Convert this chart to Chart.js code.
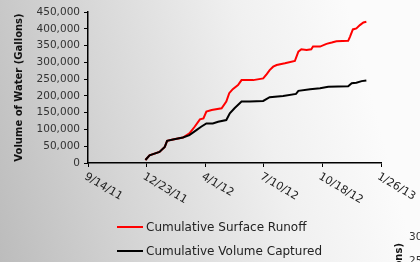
<!DOCTYPE html>
<html>
<head>
<meta charset="utf-8">
<script src="https://cdn.jsdelivr.net/npm/chart.js@4/dist/chart.umd.min.js"></script>
<style>
    html, body { margin: 0; padding: 0; }
    #wrap {
        width: 420px;
        height: 262px;
        position: relative;
        background: linear-gradient(75deg, #bcbcbc 0%, #d6d6d6 30%, #f0f0f0 62%, #fbfbfb 85%);
    }
</style>
</head>
<body>
<div id="wrap"><canvas id="chart"></canvas></div>
<script>
// Eje X: días desde el 14/9/11
const tickDays = [0, 100, 200, 300, 400, 500];
const tickLabels = ['9/14/11', '12/23/11', '4/1/12', '7/10/12', '10/18/12', '1/26/13'];

// Escurrimiento superficial acumulado (galones)
const runoffDays = [98, 105, 122, 131, 135, 145, 162, 173, 182, 191, 197, 202, 211, 228, 236, 241, 247, 256, 262, 282, 299, 305, 310, 316, 322, 336, 353, 359, 364, 373, 381, 384, 396, 407, 416, 424, 444, 447, 452, 458, 464, 470, 475];
const runoffValues = [9000, 23000, 33000, 48000, 66000, 70000, 76000, 88000, 108000, 130000, 133000, 153000, 158000, 163000, 183000, 208000, 220000, 232000, 247000, 247000, 252000, 265000, 277000, 287000, 292000, 297000, 304000, 332000, 339000, 337000, 339000, 347000, 347000, 355000, 359000, 363000, 364000, 376000, 398000, 401000, 411000, 419000, 421000];

// Volumen acumulado captado (galones)
const capturedDays = [98, 105, 122, 131, 135, 145, 162, 173, 185, 193, 202, 213, 222, 236, 242, 250, 262, 276, 299, 310, 333, 355, 359, 379, 396, 410, 444, 450, 458, 467, 475];
const capturedValues = [9000, 23000, 33000, 48000, 66000, 70000, 76000, 83000, 98000, 108000, 118000, 118000, 123000, 128000, 148000, 163000, 183000, 183000, 185000, 196000, 200000, 206000, 215000, 220000, 223000, 227000, 229000, 238000, 239000, 244000, 246000];

const seriesLabels = ['Cumulative Surface Runoff', 'Cumulative Volume Captured'];
const seriesColors = ['#ff0000', '#000000'];

const FONT = '"DejaVu Sans", Verdana, sans-serif';

const toPoints = (xs, ys) => xs.map((x, i) => ({ x: x, y: ys[i] }));

// Etiquetas del eje X inclinadas, leyenda y restos del gráfico vecino
const extrasPlugin = {
    id: 'extras',
    afterDraw(chart) {
        const ctx = chart.ctx;
        const xScale = chart.scales.x;
        const bottom = chart.chartArea.bottom;

        ctx.save();
        ctx.fillStyle = '#222';
        ctx.font = '11px ' + FONT;
        ctx.textAlign = 'left';
        ctx.textBaseline = 'top';
        tickDays.forEach((d, i) => {
            const px = xScale.getPixelForValue(d);
            ctx.save();
            ctx.translate(px, bottom + 8);
            ctx.rotate(31 * Math.PI / 180);
            ctx.fillText(tickLabels[i], 0, 0);
            ctx.restore();
        });

        // Leyenda
        ctx.font = '12px ' + FONT;
        ctx.textBaseline = 'middle';
        chart.data.datasets.forEach((ds, i) => {
            const y = 227 + i * 24;
            ctx.strokeStyle = ds.borderColor;
            ctx.lineWidth = 2;
            ctx.beginPath();
            ctx.moveTo(117, y);
            ctx.lineTo(143, y);
            ctx.stroke();
            ctx.fillStyle = '#222';
            ctx.fillText(ds.label, 146, y + 1);
        });

        // Fragmentos del gráfico de al lado
        ctx.fillStyle = '#333';
        ctx.font = '10.5px ' + FONT;
        ctx.fillText('300,000', 409, 237);
        ctx.fillText('250,000', 409, 261);
        ctx.save();
        ctx.translate(399, 243);
        ctx.rotate(-Math.PI / 2);
        ctx.font = 'bold 10px ' + FONT;
        ctx.textAlign = 'right';
        ctx.fillStyle = '#111';
        ctx.fillText('Volume of Water (Gallons)', 0, 0);
        ctx.restore();

        ctx.restore();
    }
};

new Chart(document.getElementById('chart'), {
    type: 'line',

    data: {
        datasets: [
            {
                label: seriesLabels[0],
                data: toPoints(runoffDays, runoffValues),
                borderColor: seriesColors[0],
                borderWidth: 2,
                pointRadius: 0,
                tension: 0,
                order: 1
            },
            {
                label: seriesLabels[1],
                data: toPoints(capturedDays, capturedValues),
                borderColor: seriesColors[1],
                borderWidth: 2,
                pointRadius: 0,
                tension: 0,
                order: 0
            }
        ]
    },

    options: {
        responsive: true,
        maintainAspectRatio: false,
        animation: false,

        layout: {
            padding: { left: 13, top: 12, right: 39, bottom: 0 }
        },

        plugins: {
            legend: { display: false },
            tooltip: { enabled: false }
        },

        scales: {
            x: {
                type: 'linear',
                min: 0,
                max: 500,
                afterBuildTicks(scale) {
                    scale.ticks = tickDays.map(v => ({ value: v }));
                },
                afterFit(scale) {
                    scale.height = 99;
                },
                ticks: { display: false },
                grid: {
                    drawOnChartArea: false,
                    drawTicks: true,
                    tickLength: 4,
                    color: '#000'
                },
                border: { color: '#000', width: 1.5 }
            },

            y: {
                min: 0,
                max: 450000,
                afterFit(scale) {
                    scale.width = 75;
                },
                ticks: {
                    stepSize: 50000,
                    padding: 4,
                    color: '#333',
                    font: { family: FONT, size: 10.5 },
                    callback: value => value.toLocaleString('en-US')
                },
                grid: {
                    drawOnChartArea: false,
                    drawTicks: true,
                    tickLength: 4,
                    color: '#000'
                },
                border: { color: '#000', width: 1.5 },
                title: {
                    display: true,
                    text: 'Volume of Water (Gallons)',
                    color: '#111',
                    padding: 0,
                    font: { family: FONT, size: 10, weight: 'bold' }
                }
            }
        }
    },

    plugins: [extrasPlugin]
});
</script>
</body>
</html>
